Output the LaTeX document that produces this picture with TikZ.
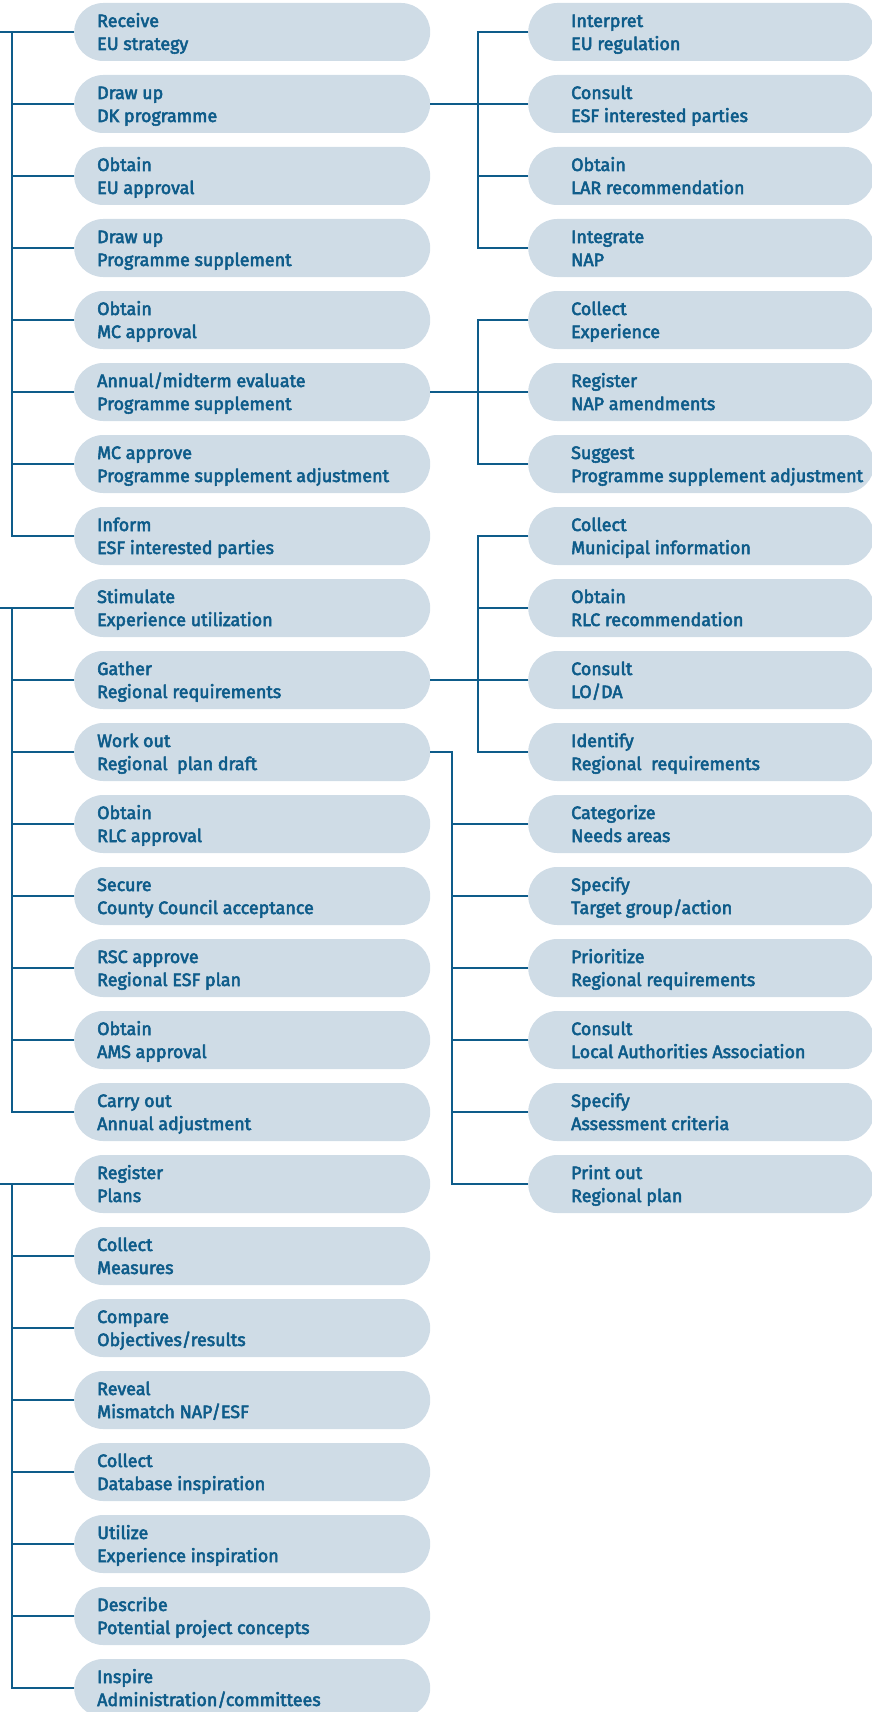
\documentclass[tikz,border=0pt]{standalone}
\usepackage{fontspec}
\setmainfont{Fira Sans}[FakeBold=3]
\definecolor{ink}{RGB}{14,92,138}
\definecolor{pill}{RGB}{207,220,230}
\newcommand{\twolines}[2]{\rule{0pt}{18pt}#1\\#2\rule[-5pt]{0pt}{5pt}}
\begin{document}
\begin{tikzpicture}[x=1pt,y=-1pt,
  pillbase/.style={fill=pill, draw=none, rounded corners=29pt, minimum height=58pt,
    inner sep=0pt, anchor=west},
  leftpill/.style={pillbase, minimum width=356pt},
  rightpill/.style={pillbase, minimum width=346pt},
  lbl/.style={anchor=west, inner sep=0pt, align=left, text=ink,
    font=\fontsize{17.9}{23}\selectfont},
  conn/.style={draw=ink, line width=2.7pt, line join=miter}]
\useasboundingbox (0,0) rectangle (872,1712);

% left column of activities
\foreach \i/\a/\b in {
  0/Receive/EU strategy,
  1/Draw up/DK programme,
  2/Obtain/EU approval,
  3/Draw up/Programme supplement,
  4/Obtain/MC approval,
  5/{Annual/midterm evaluate}/Programme supplement,
  6/MC approve/Programme supplement adjustment,
  7/Inform/ESF interested parties,
  8/Stimulate/Experience utilization,
  9/Gather/Regional requirements,
  10/Work out/Regional~ plan draft,
  11/Obtain/RLC approval,
  12/Secure/County Council acceptance,
  13/RSC approve/Regional ESF plan,
  14/Obtain/AMS approval,
  15/Carry out/Annual adjustment,
  16/Register/Plans,
  17/Collect/Measures,
  18/Compare/{Objectives/results},
  19/Reveal/{Mismatch NAP/ESF},
  20/Collect/Database inspiration,
  21/Utilize/Experience inspiration,
  22/Describe/Potential project concepts,
  23/Inspire/{Administration/committees}}{
  \node[leftpill] (L\i) at (74,32+72*\i) {};
  \node[lbl] (Lt\i) at ([xshift=23pt]L\i.west) {\twolines{\a}{\b}};
}

% right column of sub-activities
\foreach \i/\a/\b in {
  0/Interpret/EU regulation,
  1/Consult/ESF interested parties,
  2/Obtain/LAR recommendation,
  3/Integrate/NAP,
  4/Collect/Experience,
  5/Register/NAP amendments,
  6/Suggest/Programme supplement adjustment,
  7/Collect/Municipal information,
  8/Obtain/RLC recommendation,
  9/Consult/{LO/DA},
  10/Identify/Regional~ requirements,
  11/Categorize/Needs areas,
  12/Specify/{Target group/action},
  13/Prioritize/Regional requirements,
  14/Consult/Local Authorities Association,
  15/Specify/Assessment criteria,
  16/Print out/Regional plan}{
  \node[rightpill] (R\i) at (528,32+72*\i) {};
  \node[lbl] (Rt\i) at ([xshift=43pt]R\i.west) {\twolines{\a}{\b}};
}

% trunks on the left edge
\coordinate (trunk) at (12,0);
\coordinate (bA) at (478,0);
\coordinate (bB) at (452,0);
\foreach \g/\e in {0/7,8/15,16/23}{
  \coordinate (T\g) at (0,32+72*\g);
  \draw[conn] (T\g) -- (L\g.west);
  \draw[conn] (L\g.west -| trunk) |- (L\e.west);
  \pgfmathtruncatemacro{\s}{\g+1}
  \pgfmathtruncatemacro{\f}{\e-1}
  \foreach \k in {\s,...,\f}{
    \draw[conn] (L\k.west -| trunk) -- (L\k.west);
  }
}

% branches to the right column
\draw[conn] (L1.east) -- (L1.east -| bA);
\draw[conn] (R0.west) -- (R0.west -| bA) |- (R3.west);
\foreach \k in {1,2}{\draw[conn] (R\k.west -| bA) -- (R\k.west);}

\draw[conn] (L5.east) -- (L5.east -| bA);
\draw[conn] (R4.west) -- (R4.west -| bA) |- (R6.west);
\draw[conn] (R5.west -| bA) -- (R5.west);

\draw[conn] (L9.east) -- (L9.east -| bA);
\draw[conn] (R7.west) -- (R7.west -| bA) |- (R10.west);
\foreach \k in {8,9}{\draw[conn] (R\k.west -| bA) -- (R\k.west);}

\draw[conn] (L10.east) -- (L10.east -| bB) |- (R16.west);
\foreach \k in {11,...,15}{\draw[conn] (R\k.west -| bB) -- (R\k.west);}
\end{tikzpicture}
\end{document}
